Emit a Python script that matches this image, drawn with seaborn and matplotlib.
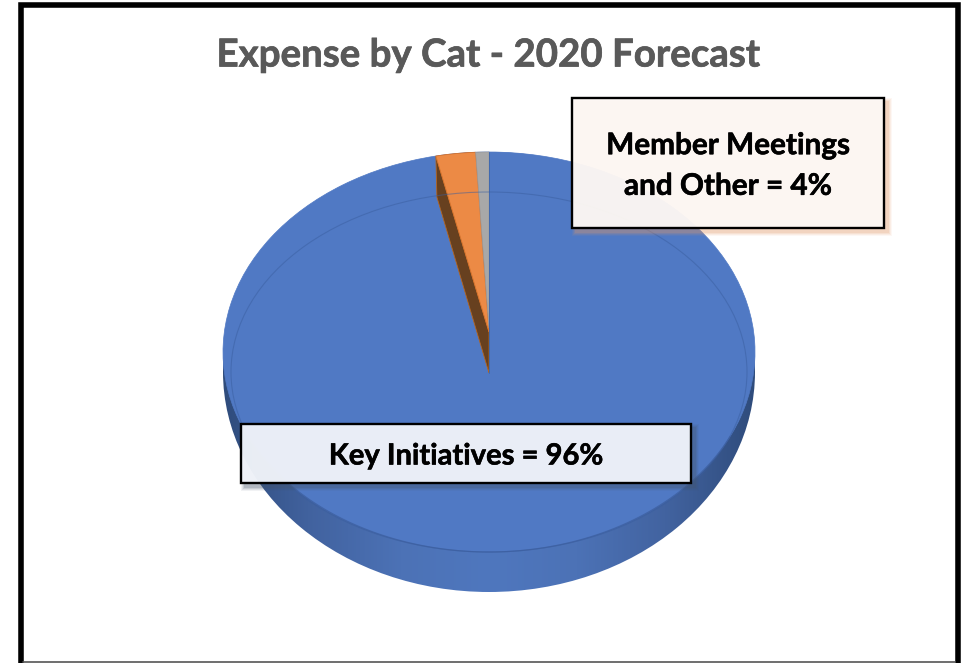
#!/usr/bin/env python
# coding: utf-8

import numpy as np
import matplotlib
matplotlib.use("Agg")
import matplotlib.pyplot as plt
import matplotlib.patheffects as pe
import seaborn as sns
from matplotlib.patches import Ellipse, Polygon, Rectangle
from matplotlib.transforms import Affine2D

# values, the printed labels are rounded by the author
categories = ["Key Initiatives", "Member Meetings", "Other"]
values = [96.8, 2.4, 0.8]
slice_colors = ["#5079C4", "#EC8A45", "#A8A8A8"]

title = "Expense by Cat - 2020 Forecast"
label_key = "Key Initiatives = 96%"
label_other = "Member Meetings\nand Other = 4%"

sns.set_theme(style="white")
plt.rcParams["font.family"] = ["Lato", "DejaVu Sans"]

fig = plt.figure(figsize=(9.66, 6.63), dpi=100)
ax = fig.add_axes([0, 0, 1, 1])

# pie disc, ellipse in pixel style coordinates
cx, cy, rx, ry = 489, 352, 266, 200
apex_top = 332
depth = 41

wedges, _ = ax.pie(values, colors=[slice_colors[0]] * 3, startangle=90, counterclock=False)
disc = Affine2D().scale(rx, -ry).translate(cx, cy) + ax.transData
for w in wedges:
    w.set_transform(disc)
    w.set_zorder(3)
    w.set_edgecolor(slice_colors[0])
    w.set_linewidth(0.5)

ax.set_aspect("auto")
ax.set_frame_on(True)

# side wall, shaded from the edges to the middle
wall = Ellipse((cx, 372), 2 * rx, 440, facecolor="none", edgecolor="none", zorder=2)
ax.add_patch(wall)
wall_cmap = sns.blend_palette(["#2F4C7C", "#4263A0", "#4C72B6", "#4F77BE", "#4C72B6", "#4263A0", "#2F4C7C"], as_cmap=True)
shade = np.linspace(0, 1, 256).reshape(1, -1)
img = ax.imshow(shade, extent=(cx - rx, cx + rx, 600, 140), cmap=wall_cmap, aspect="auto", zorder=2)
img.set_clip_path(wall)


def rim(theta, y0=cy, h=ry, w=rx):
    t = np.radians(theta)
    return cx + w * np.cos(t), y0 - h * np.sin(t)


# the two small slices are pulled up to the perspective apex
orange = wedges[1]
gray = wedges[2]
th = np.linspace(orange.theta1, orange.theta2, 12)
ox, oy = rim(th)
far_x, far_y = rim(orange.theta2)

ax.add_patch(Polygon([(far_x, far_y), (far_x + 1, far_y + depth), (cx, apex_top + depth), (cx, apex_top)],
                     facecolor="#67401F", edgecolor="#B5651F", lw=0.6, zorder=4))
ax.add_patch(Polygon(list(zip(ox, oy)) + [(cx, apex_top)],
                     facecolor=slice_colors[1], edgecolor="#D9742C", lw=0.6, zorder=5))
th = np.linspace(gray.theta1, gray.theta2, 6)
gx, gy = rim(th)
ax.add_patch(Polygon(list(zip(gx, gy)) + [(cx, apex_top - 4)],
                     facecolor=slice_colors[2], edgecolor="#9C9C9C", lw=0.5, zorder=5))
ax.plot([cx, cx], [cy - ry, apex_top + depth], color="#3F69B0", lw=0.7, zorder=6)

# faint inner line of the top face
ax.add_patch(Ellipse((cx, 372), 516, 360, facecolor="none", edgecolor="#3A5E9F", lw=0.8, alpha=0.5, zorder=6))
# darker front edge of the top face
th = np.linspace(205, 335, 120)
ax.plot(*rim(th), color="#3C5E9E", lw=0.9, alpha=0.7, zorder=6)


def label_box(x0, y0, x1, y1, fill, alpha, shadow):
    # soft shadow, a few widening rectangles
    for grow, a in [(4, 0.07), (3, 0.10), (2, 0.14), (1, 0.18)]:
        ax.add_patch(Rectangle((x0 + 4 - grow, y0 + 4 - grow), x1 - x0 + 2 * grow, y1 - y0 + 2 * grow,
                               facecolor=shadow, edgecolor="none", alpha=a, zorder=7))
    ax.add_patch(Rectangle((x0, y0), x1 - x0, y1 - y0, facecolor="white", edgecolor="none", zorder=7.5, alpha=alpha))
    ax.add_patch(Rectangle((x0, y0), x1 - x0, y1 - y0, facecolor=fill, edgecolor="black", lw=1.7, zorder=8))


label_box(572, 98, 884, 228, (0.99, 0.95, 0.92, 0.40), 0.9, "#E39A6A")
label_box(241, 424, 691, 483, (0.91, 0.93, 0.97, 0.55), 0.9, "#44546A")

bold = [pe.withStroke(linewidth=0.4, foreground="black")]
ax.text(728, 165.5, label_other, ha="center", va="center", fontsize=21.4, fontweight="bold",
        color="black", linespacing=1.55, zorder=9, path_effects=bold)
ax.text(466, 456.5, label_key, ha="center", va="center", fontsize=21, fontweight="bold", color="black", zorder=9,
        path_effects=bold)

ax.text(489, 55.5, title, ha="center", va="center", fontsize=27.7, fontweight="bold", color="#595959", zorder=9,
        path_effects=[pe.withStroke(linewidth=0.5, foreground="#595959")])

# outer frame, heavy on three sides and thin along the bottom
ax.plot([20.7, 20.7, 958, 958], [663, 4.5, 4.5, 663], color="black", lw=4, solid_joinstyle="miter", zorder=10)
ax.plot([23, 955], [661.7, 661.7], color="#555555", lw=1.2, zorder=10)

ax.set_xlim(0, 966)
ax.set_ylim(663, 0)
ax.set_xticks([])
ax.set_yticks([])
ax.set_frame_on(False)

fig.savefig("out.png", dpi=100)
